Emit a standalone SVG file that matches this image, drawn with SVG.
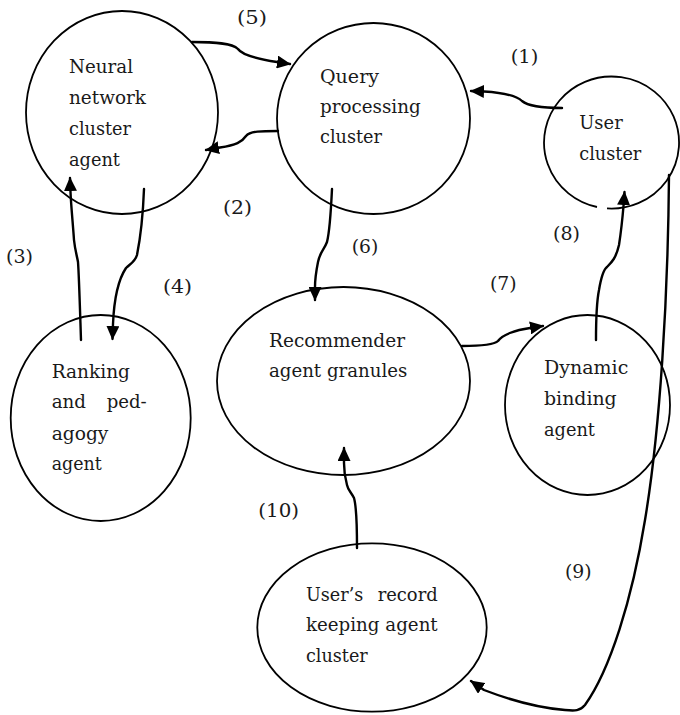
<svg xmlns="http://www.w3.org/2000/svg" width="680" height="715" viewBox="0 0 680 715">
  <style>
    .node { fill: none; stroke: #000; stroke-width: 1.8; }
    .lbl { font-family: "DejaVu Serif", "Liberation Serif", serif; font-size: 18px; fill: #1a1a1a; }
    .edge { fill: none; stroke: #000; stroke-width: 2.4; stroke-linecap: round; stroke-linejoin: round; }
  </style>
  <defs>
    <marker id="arrow" viewBox="0 0 14 13" refX="13" refY="6.5" markerWidth="14" markerHeight="13" markerUnits="userSpaceOnUse" orient="auto">
      <path d="M0,0 L14,6.5 L0,13 Z" fill="#000"/>
    </marker>
  </defs>
  <rect width="680" height="715" fill="#fff"/>

  <!-- agents -->
  <g id="neural-network-cluster-agent">
    <ellipse class="node" cx="122" cy="112.5" rx="96" ry="101.5"/>
    <text class="lbl" x="69" y="73" textLength="64" lengthAdjust="spacingAndGlyphs">Neural</text>
    <text class="lbl" x="69" y="104" textLength="77" lengthAdjust="spacingAndGlyphs">network</text>
    <text class="lbl" x="69" y="135" textLength="62" lengthAdjust="spacingAndGlyphs">cluster</text>
    <text class="lbl" x="69" y="166" textLength="51" lengthAdjust="spacingAndGlyphs">agent</text>
  </g>

  <g id="query-processing-cluster">
    <ellipse class="node" cx="373.5" cy="118.5" rx="96.5" ry="95.5"/>
    <text class="lbl" x="320" y="83" textLength="59" lengthAdjust="spacingAndGlyphs">Query</text>
    <text class="lbl" x="320" y="113" textLength="100.7" lengthAdjust="spacingAndGlyphs">processing</text>
    <text class="lbl" x="320" y="143" textLength="62" lengthAdjust="spacingAndGlyphs">cluster</text>
  </g>

  <g id="user-cluster">
    <!-- outline left open at the bottom where the binding arrow enters -->
    <path class="node" d="M607,208.4 A67.5,66 0 1 0 597,207"/>
    <text class="lbl" x="579.3" y="129.3" textLength="43.4" lengthAdjust="spacingAndGlyphs">User</text>
    <text class="lbl" x="579.3" y="160" textLength="62" lengthAdjust="spacingAndGlyphs">cluster</text>
  </g>

  <g id="ranking-and-pedagogy-agent">
    <ellipse class="node" cx="100.7" cy="418" rx="90" ry="103"/>
    <text class="lbl" x="51.7" y="377.5" textLength="78.3" lengthAdjust="spacingAndGlyphs">Ranking</text>
    <text class="lbl" y="408.3"><tspan x="51.7" textLength="34.3" lengthAdjust="spacingAndGlyphs">and</tspan><tspan x="106.7" textLength="40" lengthAdjust="spacingAndGlyphs">ped-</tspan></text>
    <text class="lbl" x="51.7" y="439.5" textLength="56.7" lengthAdjust="spacingAndGlyphs">agogy</text>
    <text class="lbl" x="51.7" y="470" textLength="50" lengthAdjust="spacingAndGlyphs">agent</text>
  </g>

  <g id="recommender-agent-granules">
    <ellipse class="node" cx="343.5" cy="381" rx="126.5" ry="94"/>
    <text class="lbl" x="269" y="347.3" textLength="136" lengthAdjust="spacingAndGlyphs">Recommender</text>
    <text class="lbl" x="269" y="377.3" textLength="138.3" lengthAdjust="spacingAndGlyphs">agent granules</text>
  </g>

  <g id="dynamic-binding-agent">
    <ellipse class="node" cx="587.5" cy="405" rx="82.5" ry="90"/>
    <text class="lbl" x="544" y="373.8" textLength="84.3" lengthAdjust="spacingAndGlyphs">Dynamic</text>
    <text class="lbl" x="544" y="404.8" textLength="72.7" lengthAdjust="spacingAndGlyphs">binding</text>
    <text class="lbl" x="544" y="435.5" textLength="51" lengthAdjust="spacingAndGlyphs">agent</text>
  </g>

  <g id="users-record-keeping-agent-cluster">
    <ellipse class="node" cx="372" cy="627.5" rx="114.7" ry="84.2"/>
    <text class="lbl" y="601"><tspan x="306" textLength="57.3" lengthAdjust="spacingAndGlyphs">User’s</tspan><tspan x="377.7" textLength="60" lengthAdjust="spacingAndGlyphs">record</tspan></text>
    <text class="lbl" x="306" y="630.7" textLength="131.7" lengthAdjust="spacingAndGlyphs">keeping agent</text>
    <text class="lbl" x="306" y="661.7" textLength="61.7" lengthAdjust="spacingAndGlyphs">cluster</text>
  </g>

  <!-- message flows -->
  <g id="connectors">
    <!-- (1) user cluster -> query processing -->
    <path class="edge" marker-end="url(#arrow)" d="M562,108 C545,108 528,106 522,101 C516,95 500,92.5 484,91.5 L471,91"/>
    <!-- (2) query processing -> neural network -->
    <path class="edge" marker-end="url(#arrow)" d="M278,131 C262,131 250,131 246,136 C242,142 236,145 220,147.5 L206,150"/>
    <!-- (3) ranking -> neural network -->
    <path class="edge" marker-end="url(#arrow)" d="M81,340 C80,310 79,275 78,262 C77,256 75,250 74,240 C73,225 71,205 70.5,192 L70,178"/>
    <!-- (4) neural network -> ranking -->
    <path class="edge" marker-end="url(#arrow)" d="M144,189 C143,215 140,240 137,255 C135,262 130,264 126,268 C118,280 114,300 113,324 L112.5,339"/>
    <!-- (5) neural network -> query processing -->
    <path class="edge" marker-end="url(#arrow)" d="M192,42 C215,42 232,43 238,49 C242,55 258,59 277,62 L290,64"/>
    <!-- (6) query processing -> recommender -->
    <path class="edge" marker-end="url(#arrow)" d="M332,189 C331,210 330,230 327,242 C324,250 320,252 318,262 C316,272 315,280 315,287 L315,300"/>
    <!-- (7) recommender -> dynamic binding -->
    <path class="edge" marker-end="url(#arrow)" d="M462,346 C480,346 494,345 498,341 C502,335 515,330 530,328 L543,326"/>
    <!-- (8) dynamic binding -> user cluster -->
    <path class="edge" marker-end="url(#arrow)" d="M596,340 C596,315 597,300 599,290 C601,278 603,270 607,267 C612,262 616,258 619,245 C621,232 622.5,218 623.5,206 L624.5,192"/>
    <!-- (9) user cluster -> record keeping -->
    <path class="edge" marker-end="url(#arrow)" d="M669,175 C668,300 660,430 645,520 C632,600 610,670 585,705 C580,711 575,711 565,710 C540,708 510,700 484,690 L471,681"/>
    <!-- (10) record keeping -> recommender -->
    <path class="edge" marker-end="url(#arrow)" d="M357,548 C357,525 356,505 354,498 C351,492 348,490 347,485 C345,478 344,470 344,463 L344,448"/>
  </g>

  <g id="step-labels">
    <text class="lbl" x="510.7" y="63" textLength="27.6" lengthAdjust="spacingAndGlyphs">(1)</text>
    <text class="lbl" x="223" y="214" textLength="29" lengthAdjust="spacingAndGlyphs">(2)</text>
    <text class="lbl" x="6" y="263" textLength="27" lengthAdjust="spacingAndGlyphs">(3)</text>
    <text class="lbl" x="163" y="293" textLength="29" lengthAdjust="spacingAndGlyphs">(4)</text>
    <text class="lbl" x="237" y="24" textLength="30" lengthAdjust="spacingAndGlyphs">(5)</text>
    <text class="lbl" x="351.7" y="253" textLength="26.6" lengthAdjust="spacingAndGlyphs">(6)</text>
    <text class="lbl" x="490" y="290" textLength="26.7" lengthAdjust="spacingAndGlyphs">(7)</text>
    <text class="lbl" x="553" y="240" textLength="27" lengthAdjust="spacingAndGlyphs">(8)</text>
    <text class="lbl" x="565" y="578" textLength="26.7" lengthAdjust="spacingAndGlyphs">(9)</text>
    <text class="lbl" x="258.3" y="517" textLength="40.7" lengthAdjust="spacingAndGlyphs">(10)</text>
  </g>
</svg>
